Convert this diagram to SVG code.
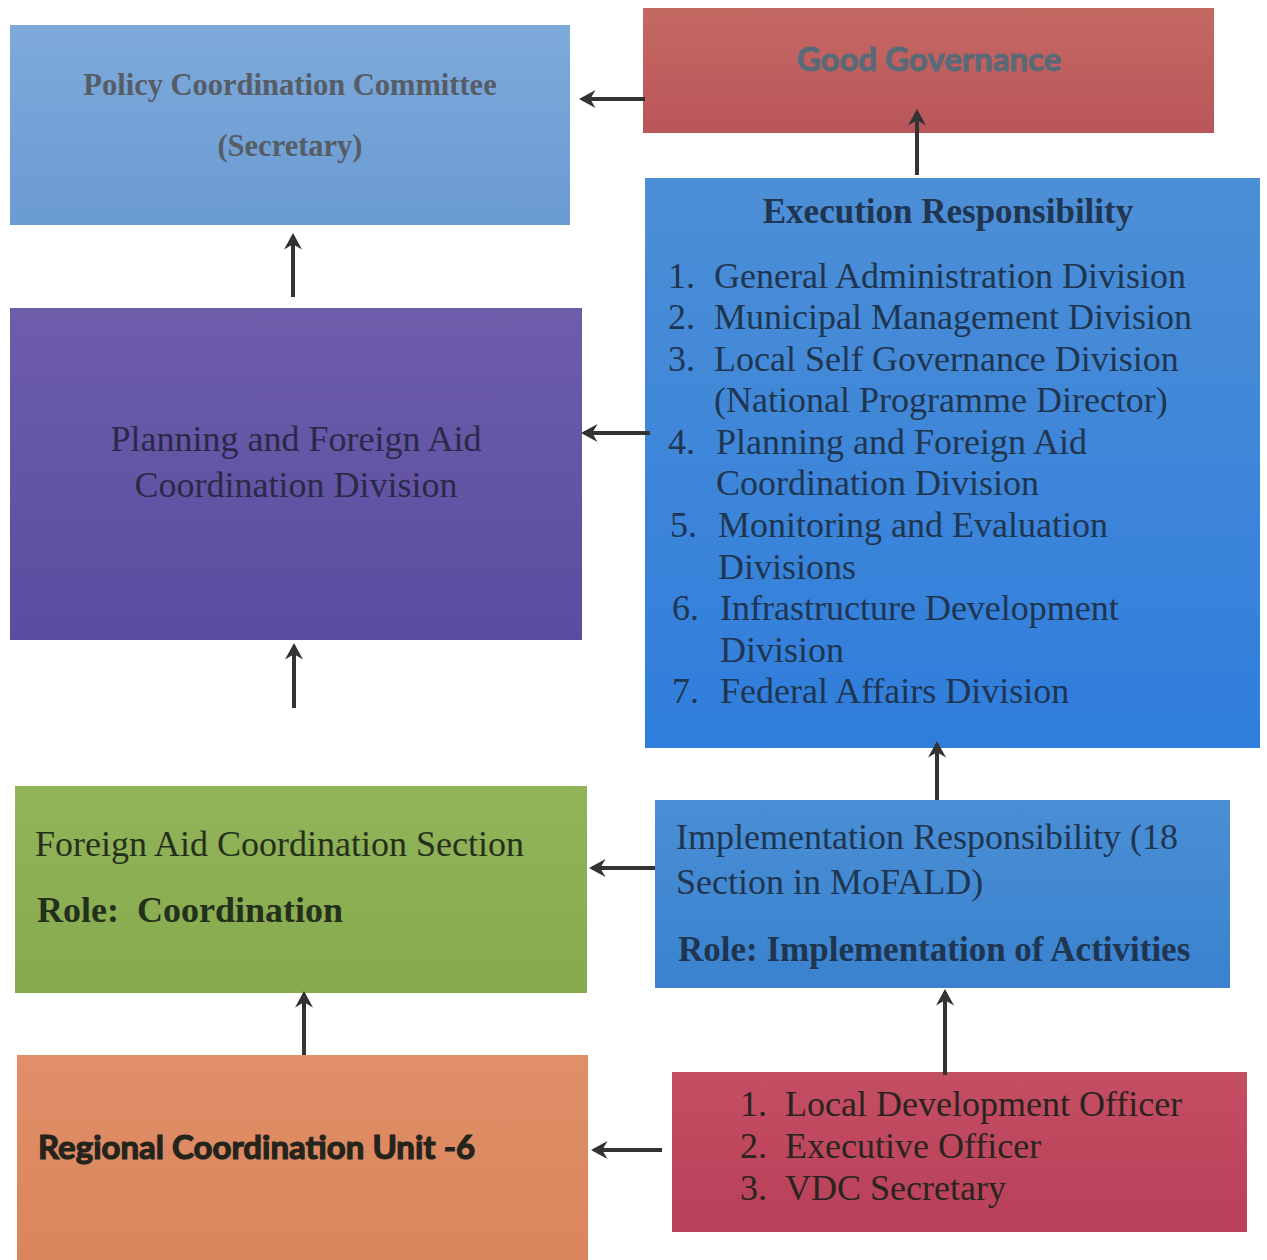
<svg xmlns="http://www.w3.org/2000/svg" width="1267" height="1260" viewBox="0 0 1267 1260">
<defs>
<linearGradient id="gBlue1" x1="0" y1="0" x2="0" y2="1"><stop offset="0" stop-color="#7eaadb"/><stop offset="1" stop-color="#6a9bd3"/></linearGradient>
<linearGradient id="gRed" x1="0" y1="0" x2="0" y2="1"><stop offset="0" stop-color="#c56963"/><stop offset="1" stop-color="#b9555a"/></linearGradient>
<linearGradient id="gBlue2" x1="0" y1="0" x2="0" y2="1"><stop offset="0" stop-color="#4d8fd6"/><stop offset="1" stop-color="#2f7ddc"/></linearGradient>
<linearGradient id="gPurple" x1="0" y1="0" x2="0" y2="1"><stop offset="0" stop-color="#6d5dab"/><stop offset="1" stop-color="#5a4c9f"/></linearGradient>
<linearGradient id="gGreen" x1="0" y1="0" x2="0" y2="1"><stop offset="0" stop-color="#93b45a"/><stop offset="1" stop-color="#86aa4d"/></linearGradient>
<linearGradient id="gBlue3" x1="0" y1="0" x2="0" y2="1"><stop offset="0" stop-color="#4a8fd5"/><stop offset="1" stop-color="#3a82cf"/></linearGradient>
<linearGradient id="gOrange" x1="0" y1="0" x2="0" y2="1"><stop offset="0" stop-color="#e08f68"/><stop offset="1" stop-color="#da855d"/></linearGradient>
<linearGradient id="gCrimson" x1="0" y1="0" x2="0" y2="1"><stop offset="0" stop-color="#c44e62"/><stop offset="1" stop-color="#b8405a"/></linearGradient>
<marker id="arr" viewBox="0 0 12 12" refX="10" refY="6" markerWidth="4.5" markerHeight="4.5" orient="auto" markerUnits="strokeWidth">
<path d="M12,6 L1,0 L4.5,6 L1,12 Z" fill="#333"/>
</marker>
</defs>
<style>
.serif{font-family:"Liberation Serif","Times New Roman",Tinos,"DejaVu Serif",serif;}
.sans{font-family:Lato,"Open Sans","Liberation Sans",sans-serif;}
.b{font-weight:bold;}
.conn line{stroke:#333;stroke-width:4;fill:none;}
</style>
<rect width="1267" height="1260" fill="#ffffff"/>
<g id="policy-coordination-committee">
<rect x="10" y="25" width="560" height="200" fill="url(#gBlue1)"/>
<text class="serif b" x="290" y="95" font-size="30.5" fill="#565d66" text-anchor="middle">Policy Coordination Committee</text>
<text class="serif b" x="290" y="156" font-size="30.5" fill="#565d66" text-anchor="middle">(Secretary)</text>
</g>
<g id="good-governance">
<rect x="643" y="8" width="571" height="125" fill="url(#gRed)"/>
<text class="sans b" x="929" y="71" font-size="33" fill="#566a78" stroke="#566a78" stroke-width="0.8" text-anchor="middle">Good Governance</text>
</g>
<g id="execution-responsibility">
<rect x="645" y="178" width="615" height="570" fill="url(#gBlue2)"/>
<text class="serif b" x="948" y="223" font-size="35" fill="#1f3550" text-anchor="middle">Execution Responsibility</text>
<g class="serif" font-size="36" fill="#1f3550">
<text x="668" y="288">1.</text><text x="714" y="288">General Administration Division</text>
<text x="668" y="329">2.</text><text x="714" y="329">Municipal Management Division</text>
<text x="668" y="371">3.</text><text x="714" y="371">Local Self Governance Division</text>
<text x="714" y="412">(National Programme Director)</text>
<text x="668" y="454">4.</text><text x="716" y="454">Planning and Foreign Aid</text>
<text x="716" y="495">Coordination Division</text>
<text x="670" y="537">5.</text><text x="718" y="537">Monitoring and Evaluation</text>
<text x="718" y="579">Divisions</text>
<text x="672" y="620">6.</text><text x="720" y="620">Infrastructure Development</text>
<text x="720" y="662">Division</text>
<text x="672" y="703">7.</text><text x="720" y="703">Federal Affairs Division</text>
</g>
</g>
<g id="planning-foreign-aid-division">
<rect x="10" y="308" width="572" height="332" fill="url(#gPurple)"/>
<text class="serif" x="296" y="451" font-size="36" fill="#2a2a48" text-anchor="middle">Planning and Foreign Aid</text>
<text class="serif" x="296" y="497" font-size="36" fill="#2a2a48" text-anchor="middle">Coordination Division</text>
</g>
<g id="foreign-aid-coordination-section">
<rect x="15" y="786" width="572" height="207" fill="url(#gGreen)"/>
<text class="serif" x="35" y="856" font-size="36" fill="#25301c">Foreign Aid Coordination Section</text>
<text class="serif b" x="37" y="922" font-size="36" fill="#25301c" xml:space="preserve">Role:  Coordination</text>
</g>
<g id="implementation-responsibility">
<rect x="655" y="800" width="575" height="188" fill="url(#gBlue3)"/>
<text class="serif" x="676" y="849" font-size="36" fill="#1f3550">Implementation Responsibility (18</text>
<text class="serif" x="676" y="894" font-size="36" fill="#1f3550">Section in MoFALD)</text>
<text class="serif b" x="678" y="961" font-size="35" fill="#1f3550">Role: Implementation of Activities</text>
</g>
<g id="regional-coordination-unit">
<rect x="17" y="1055" width="571" height="205" fill="url(#gOrange)"/>
<text class="sans b" x="38" y="1159" font-size="33" fill="#24241c" stroke="#24241c" stroke-width="1.2">Regional Coordination Unit -6</text>
</g>
<g id="local-officers">
<rect x="672" y="1072" width="575" height="160" fill="url(#gCrimson)"/>
<g class="serif" font-size="36" fill="#2a2420">
<text x="740" y="1116">1.</text><text x="785" y="1116">Local Development Officer</text>
<text x="740" y="1158">2.</text><text x="785" y="1158">Executive Officer</text>
<text x="740" y="1200">3.</text><text x="785" y="1200">VDC Secretary</text>
</g>
</g>
<g id="connectors" class="conn">
<line x1="645" y1="99" x2="582" y2="99" marker-end="url(#arr)"/>
<line x1="917" y1="175" x2="917" y2="112" marker-end="url(#arr)"/>
<line x1="293" y1="297" x2="293" y2="236" marker-end="url(#arr)"/>
<line x1="650" y1="433" x2="584" y2="433" marker-end="url(#arr)"/>
<line x1="294" y1="708" x2="294" y2="646" marker-end="url(#arr)"/>
<line x1="937" y1="800" x2="937" y2="744" marker-end="url(#arr)"/>
<line x1="655" y1="868" x2="592" y2="868" marker-end="url(#arr)"/>
<line x1="304" y1="1055" x2="304" y2="994" marker-end="url(#arr)"/>
<line x1="945" y1="1075" x2="945" y2="992" marker-end="url(#arr)"/>
<line x1="662" y1="1150" x2="594" y2="1150" marker-end="url(#arr)"/>
</g>
</svg>
